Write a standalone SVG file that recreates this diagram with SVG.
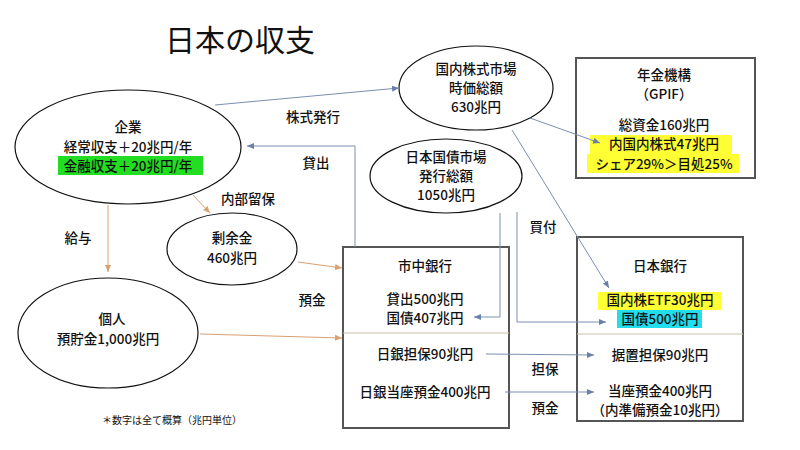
<svg xmlns="http://www.w3.org/2000/svg" width="800" height="450" viewBox="0 0 800 450">
<style>
text{font-family:"Noto Sans CJK JP","Noto Sans",sans-serif;font-size:13.5px;text-anchor:middle;fill:#111;font-weight:500}
.n{fill:#fff;stroke:#111;stroke-width:1.2}
.b{fill:#fff;stroke:#555;stroke-width:2}
.lb{stroke:#7a8fb0;stroke-width:1;fill:none}
.lo{stroke:#d9a071;stroke-width:1;fill:none}
.div{stroke:#c9c0a8;stroke-width:1}
</style>
<defs>
<marker id="ab" markerWidth="8" markerHeight="8" refX="7" refY="4" orient="auto" markerUnits="userSpaceOnUse"><path d="M0,1 L7,4 L0,7 z" fill="#6a80a8"/></marker>
<marker id="ao" markerWidth="8" markerHeight="8" refX="7" refY="4" orient="auto" markerUnits="userSpaceOnUse"><path d="M0,1 L7,4 L0,7 z" fill="#d9a071"/></marker>
</defs>
<rect width="800" height="450" fill="#fff"/>
<text x="240" y="51" style="font-size:30px;font-weight:400">日本の収支</text>

<g id="kigyo"><ellipse class="n" cx="128" cy="147" rx="113" ry="57"/>
<text x="128" y="132">企業</text><text x="128" y="152">経常収支＋20兆円/年</text>
<rect x="58" y="156" width="145" height="19" fill="#22dd22"/><text x="128" y="171">金融収支＋20兆円/年</text></g>
<g id="jouyo"><ellipse class="n" cx="232" cy="249" rx="65" ry="36"/><text x="232" y="243">剰余金</text><text x="232" y="263">460兆円</text></g>
<g id="kojin"><ellipse class="n" cx="108" cy="333" rx="90" ry="55"/><text x="112" y="324">個人</text><text x="108" y="344">預貯金1,000兆円</text></g>
<g id="kabu"><ellipse class="n" cx="476" cy="88" rx="77" ry="42"/><text x="476" y="74">国内株式市場</text><text x="476" y="93">時価総額</text><text x="476" y="112">630兆円</text></g>
<g id="kokusai"><ellipse class="n" cx="446" cy="176" rx="76" ry="37"/><text x="446" y="162">日本国債市場</text><text x="446" y="181">発行総額</text><text x="446" y="200">1050兆円</text></g>
<g id="gpif"><rect class="b" x="576" y="58" width="179" height="120"/>
<text x="664" y="80">年金機構</text><text x="664" y="99">（GPIF）</text><text x="664" y="130">総資金160兆円</text>
<rect x="590" y="135" width="142" height="19" fill="#ffff33"/><rect x="587" y="154" width="152" height="19" fill="#ffff33"/>
<text x="664" y="149">内国内株式47兆円</text><text x="664" y="169">シェア29%＞目処25%</text></g>
<g id="shichu"><rect class="b" x="343" y="247" width="166" height="181"/>
<line class="div" x1="343" y1="333" x2="509" y2="333"/>
<text x="425" y="271">市中銀行</text><text x="425" y="304">貸出500兆円</text><text x="425" y="323">国債407兆円</text>
<text x="425" y="359">日銀担保90兆円</text><text x="425" y="397">日銀当座預金400兆円</text></g>
<g id="nichigin"><rect class="b" x="577" y="237" width="166" height="184"/>
<line class="div" x1="577" y1="334" x2="743" y2="334"/>
<text x="660" y="271">日本銀行</text>
<rect x="598" y="292" width="123" height="18" fill="#ffff33"/><rect x="617" y="310" width="85" height="18" fill="#22ddee"/>
<text x="660" y="305">国内株ETF30兆円</text><text x="660" y="324">国債500兆円</text>
<text x="660" y="360">据置担保90兆円</text><text x="660" y="396">当座預金400兆円</text><text x="660" y="415">（内準備預金10兆円）</text></g>

<g id="connectors">
<line class="lb" x1="215" y1="105" x2="399" y2="88" marker-end="url(#ab)"/>
<polyline class="lb" points="355,247 355,146 247,146" marker-end="url(#ab)"/>
<line class="lo" x1="193" y1="195" x2="210" y2="213" marker-end="url(#ao)"/>
<line class="lo" x1="108" y1="205" x2="108" y2="272" marker-end="url(#ao)"/>
<line class="lo" x1="298" y1="262" x2="342" y2="268" marker-end="url(#ao)"/>
<line class="lo" x1="200" y1="334" x2="342" y2="338" marker-end="url(#ao)"/>
<polyline class="lb" points="500,213 500,317 474,317" marker-end="url(#ab)"/>
<polyline class="lb" points="517,212 517,322 606,322" marker-end="url(#ab)"/>
<line class="lb" x1="530" y1="118" x2="600" y2="143" marker-end="url(#ab)"/>
<line class="lb" x1="512" y1="130" x2="609" y2="288" marker-end="url(#ab)"/>
<line class="lb" x1="486" y1="354" x2="594" y2="355" marker-end="url(#ab)"/>
<line class="lb" x1="505" y1="392" x2="594" y2="392" marker-end="url(#ab)"/>
</g>
<g id="labels">
<text x="313" y="122">株式発行</text><text x="316" y="168">貸出</text><text x="248" y="204">内部留保</text>
<text x="78" y="243">給与</text><text x="312" y="305">預金</text><text x="543" y="232">買付</text>
<text x="545" y="374">担保</text><text x="545" y="413">預金</text>
<text x="172" y="424" style="font-size:10px;font-weight:400">＊数字は全て概算（兆円単位）</text>
</g>
</svg>
